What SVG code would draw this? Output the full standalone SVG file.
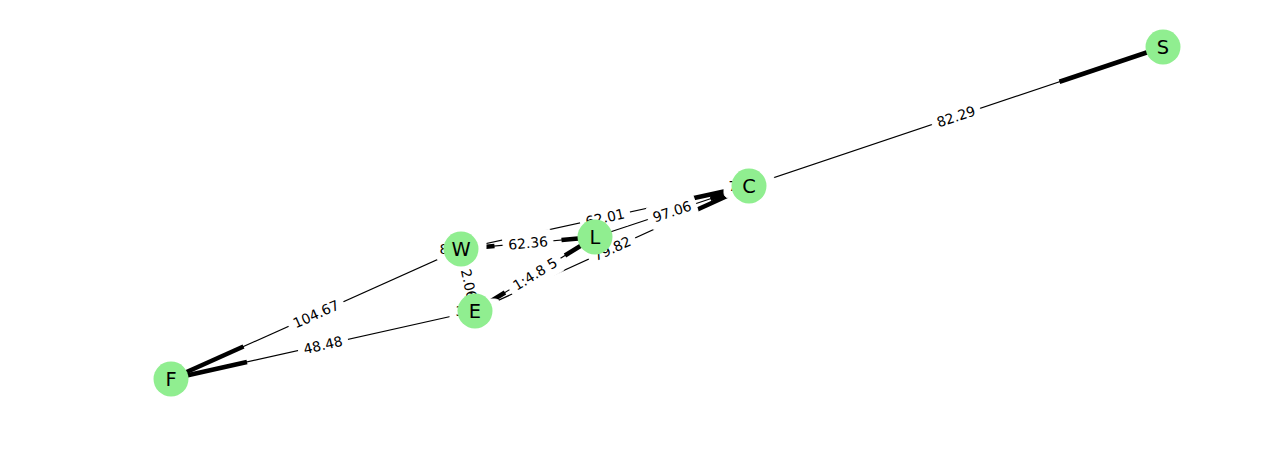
<svg xmlns="http://www.w3.org/2000/svg" width="1280" height="452" viewBox="0 0 1280 452">
<style>
.thin{stroke:#000;stroke-width:1.2;fill:none}
.thick{stroke:#000;stroke-width:4.5;fill:none}
.lb rect{fill:#fff;stroke:#fff}
.lb text{font-family:"DejaVu Sans",sans-serif;font-size:13.9px;fill:#000;text-anchor:middle}
.node circle{fill:#90ee90}
.node text{font-family:"DejaVu Sans",sans-serif;font-size:19.4px;fill:#000;text-anchor:middle}
</style>
<rect width="1280" height="452" fill="#fff"/>
<g id="connectors">
<line class="thin" x1="749" y1="186" x2="1163" y2="47"/><line class="thick" x1="1059.5" y1="81.75" x2="1163" y2="47"/>
<line class="thin" x1="461" y1="249" x2="171" y2="379"/><line class="thick" x1="243.5" y1="346.5" x2="171" y2="379"/>
<line class="thin" x1="475" y1="311" x2="171" y2="379"/><line class="thick" x1="247" y1="362" x2="171" y2="379"/>
<line class="thin" x1="461" y1="249" x2="749" y2="186"/><line class="thick" x1="677" y1="201.75" x2="749" y2="186"/>
<line class="thin" x1="595" y1="237" x2="749" y2="186"/><line class="thick" x1="710.5" y1="198.75" x2="749" y2="186"/>
<line class="thin" x1="475" y1="311" x2="749" y2="186"/><line class="thick" x1="680.5" y1="217.25" x2="749" y2="186"/>
<line class="thin" x1="595" y1="237" x2="461" y2="249"/><line class="thick" x1="494.5" y1="246" x2="461" y2="249"/>
<line class="thick" x1="561.5" y1="240" x2="595" y2="237"/>
<line class="thin" x1="475" y1="311" x2="595" y2="237"/><line class="thick" x1="565" y1="255.5" x2="595" y2="237"/>
<line class="thick" x1="505" y1="292.5" x2="475" y2="311"/>
<line class="thin" x1="461" y1="249" x2="475" y2="311"/>
</g>
<g id="edge-labels">
<g class="lb" transform="translate(956,116.5) rotate(-18.56)"><rect x="-25" y="-12" width="50" height="24" rx="5"/><text y="5">82.29</text></g>
<g class="lb" transform="translate(316,314) rotate(-24.14)"><rect x="-29.5" y="-12" width="59" height="24" rx="5"/><text y="5">104.67</text></g>
<g class="lb" transform="translate(323,345) rotate(-12.61)"><rect x="-25" y="-12" width="50" height="24" rx="5"/><text y="5">48.48</text></g>
<g class="lb" transform="translate(605,217.5) rotate(-12.34)"><rect x="-25" y="-12" width="50" height="24" rx="5"/><text y="5">62.01</text></g>
<g class="lb" transform="translate(672,211.5) rotate(-18.32)"><rect x="-25" y="-12" width="50" height="24" rx="5"/><text y="5">97.06</text></g>
<g class="lb" transform="translate(612,248.5) rotate(-24.52)"><rect x="-25" y="-12" width="50" height="24" rx="5"/><text y="5">79.82</text></g>
<g class="lb" transform="translate(528,243) rotate(-5.12)"><rect x="-25" y="-12" width="50" height="24" rx="5"/><text y="5">62.36</text></g>
<g class="lb" transform="translate(535,274) rotate(-31.66)"><rect x="-29.5" y="-12" width="59" height="24" rx="5"/><text y="5">1:4.8 5</text></g>
<g class="lb" transform="translate(468,280) rotate(77.26)"><rect x="-29.5" y="-12" width="59" height="24" rx="5"/><text x="4.4" y="5">2.06</text></g>
<g class="lb" transform="translate(461,249)"><rect x="-25" y="-12" width="50" height="24" rx="5"/><text x="-17" y="5">8</text></g>
<g class="lb" transform="translate(475,311)"><rect x="-25" y="-12" width="50" height="24" rx="5"/><text x="-15" y="5">3</text></g>
<g class="lb" transform="translate(749,186)"><rect x="-25" y="-12" width="50" height="24" rx="5"/><text x="-16" y="5">7</text></g>
</g>
<g id="node-S" class="node"><circle cx="1163" cy="47" r="17.5"/><text x="1163" y="54">S</text></g>
<g id="node-C" class="node"><circle cx="749" cy="186" r="17.5"/><text x="749" y="193">C</text></g>
<g id="node-L" class="node"><circle cx="595" cy="237" r="17.5"/><text x="595" y="244">L</text></g>
<g id="node-W" class="node"><circle cx="461" cy="249" r="17.5"/><text x="461" y="256">W</text></g>
<g id="node-E" class="node"><circle cx="475" cy="311" r="17.5"/><text x="475" y="318">E</text></g>
<g id="node-F" class="node"><circle cx="171" cy="379" r="17.5"/><text x="171" y="386">F</text></g>
</svg>
